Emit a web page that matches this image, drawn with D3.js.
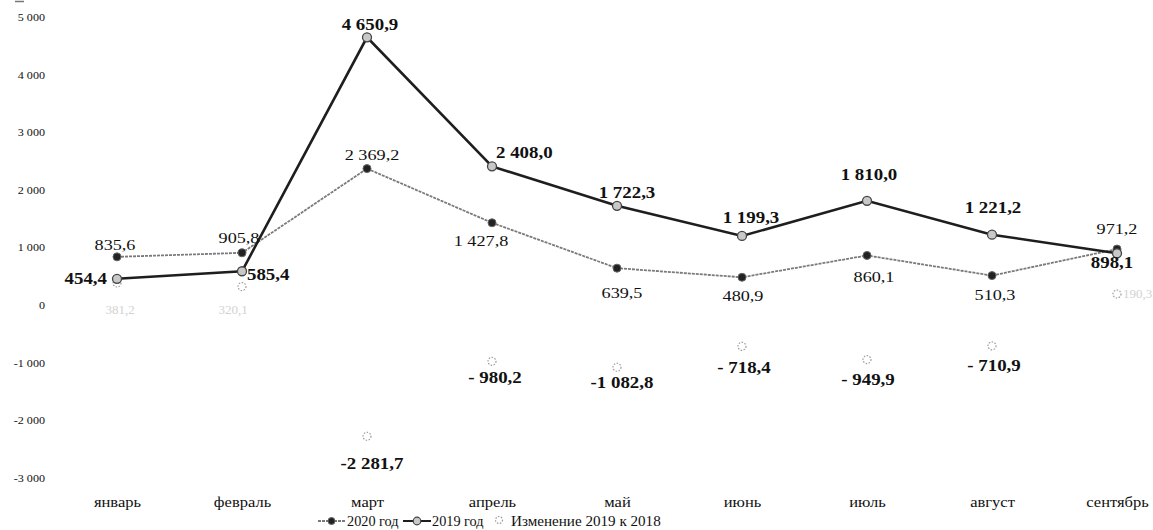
<!DOCTYPE html>
<html><head><meta charset="utf-8">
<script src="https://cdn.jsdelivr.net/npm/d3@7"></script>
<style>
body{margin:0;background:#fff}svg{display:block}
svg text{font-family:"Liberation Serif","DejaVu Serif","Times New Roman",serif !important;}
</style></head>
<body><svg id="c" width="1153" height="530"></svg>
<script>
// ---- data ----
const categories = ["январь","февраль","март","апрель","май","июнь","июль","август","сентябрь"];
const values2020 = [835.6, 905.8, 2369.2, 1427.8, 639.5, 480.9, 860.1, 510.3, 971.2];
const values2019 = [454.4, 585.4, 4650.9, 2408.0, 1722.3, 1199.3, 1810.0, 1221.2, 898.1];
const changeValues = [381.2, 320.1, -2281.7, -980.2, -1082.8, -718.4, -949.9, -710.9, 190.3];
const yTicks = [-3000, -2000, -1000, 0, 1000, 2000, 3000, 4000, 5000];
const seriesNames = ["2020 год", "2019 год", "Изменение 2019 к 2018"];

// ---- label placement (layout only) ----
const place2019 = [[-10,5,"end"],[5,9,"start"],[3,-7,"middle"],[4,-8,"start"],[10,-8,"middle"],[9,-13,"middle"],[2,-21,"middle"],[1,-22,"middle"],[-5,15,"middle"]];
const place2020 = [[-2,-7,"middle"],[-3,-10,"middle"],[5,-9,"middle"],[-11,23,"middle"],[5,30,"middle"],[1,24,"middle"],[7,27,"middle"],[3,24,"middle"],[0,-15,"middle"]];
const placeChange = [[3,31,"middle"],[-9,27,"middle"],[5,33,"middle"],[3,22,"middle"],[5,21,"middle"],[2,27,"middle"],[1,25,"middle"],[2,25,"middle"],[6,4,"start"]];
const faintChange = [true, true, false, false, false, false, false, false, true];

const svg = d3.select("#c");
svg.append("rect").attr("width",1153).attr("height",530).attr("fill","#fff");

const x = d3.scalePoint().domain(categories).range([117, 1117]);
const y = d3.scaleLinear().domain([-3000, 5000]).range([477.6, 17.2]);

const loc = d3.formatLocale({decimal: ",", thousands: "\u00a0", grouping: [3], currency: ["", ""], minus: "-"});
const f1 = loc.format(",.1f");
const fTick = loc.format(",d");
const fmtVal = v => v < 0 ? (Math.abs(v) < 1000 ? "- " + f1(-v) : "-" + f1(-v)) : f1(v);

// tiny mark top-left
svg.append("line").attr("x1",15).attr("x2",24).attr("y1",1.5).attr("y2",1.5).attr("stroke","#777").attr("stroke-width",1.5);

// ---- y axis (labels only) ----
const yAxis = d3.axisLeft(y).tickValues(yTicks).tickSize(0).tickPadding(0).tickFormat(fTick);
const gy = svg.append("g").attr("transform","translate(45,0)").call(yAxis);
gy.select(".domain").remove();
gy.selectAll("text").attr("font-size", 11).attr("fill","#111")
  .attr("x", 0).attr("transform","scale(1.1,1)");

// ---- x axis category labels ----
const xAxis = d3.axisBottom(x).tickSize(0).tickPadding(0);
const gx = svg.append("g").attr("transform","translate(0,497)").call(xAxis);
gx.select(".domain").remove();
gx.selectAll(".tick text").attr("font-size", 14).attr("fill","#111")
  .attr("dy","0.71em").attr("y",0).attr("text-anchor","middle")
  .attr("transform","scale(1.18,1)");

// ---- lines ----
const line = d3.line().x((d,i) => x(categories[i])).y(d => y(d));
svg.append("path").datum(values2020).attr("d", line).attr("fill","none")
  .attr("stroke","#7a7a7a").attr("stroke-width",1.8).attr("stroke-dasharray","3,1");
svg.append("path").datum(values2019).attr("d", line).attr("fill","none")
  .attr("stroke","#1e1e1e").attr("stroke-width",2.6);

// ---- markers ----
svg.append("g").selectAll("circle").data(changeValues).join("circle")
  .attr("cx",(d,i)=>x(categories[i])).attr("cy",d=>y(d)).attr("r",4)
  .attr("fill","none").attr("stroke","#999").attr("stroke-width",1.2).attr("stroke-dasharray","1.5,1.5");
svg.append("g").selectAll("circle").data(values2020).join("circle")
  .attr("cx",(d,i)=>x(categories[i])).attr("cy",d=>y(d)).attr("r",4)
  .attr("fill","#222").attr("stroke","#666").attr("stroke-width",1);
svg.append("g").selectAll("circle").data(values2019).join("circle")
  .attr("cx",(d,i)=>x(categories[i])).attr("cy",d=>y(d)).attr("r",4.5)
  .attr("fill","#c8c8c8").attr("stroke","#444").attr("stroke-width",1.3);

// ---- value labels ----
function labels(vals, place, opts) {
  svg.append("g").selectAll("text").data(vals).join("text")
    .attr("transform",(d,i)=>{
      const faint = opts.faint && opts.faint[i];
      const sx = faint ? 1 : opts.sx;
      return `translate(${x(categories[i]) + place[i][0]},${y(d) + place[i][1]}) scale(${sx},1)`;
    })
    .attr("text-anchor",(d,i)=>place[i][2])
    .attr("font-size",(d,i)=> opts.faint && opts.faint[i] ? 13 : opts.size)
    .attr("font-weight",(d,i)=> opts.faint && opts.faint[i] ? "normal" : opts.weight)
    .attr("fill",(d,i)=> opts.faint && opts.faint[i] ? "#d2d2d2" : "#111")
    .text(d => fmtVal(d));
}
labels(values2020, place2020, {size: 14, weight: "normal", sx: 1.3});
labels(values2019, place2019, {size: 16, weight: "bold", sx: 1.18});
labels(changeValues, placeChange, {size: 16, weight: "bold", sx: 1.18, faint: faintChange});

// ---- legend ----
const lg = svg.append("g").attr("fill","#111");
const ly = 521;
// 2020
lg.append("line").attr("x1",318).attr("x2",345).attr("y1",ly).attr("y2",ly)
  .attr("stroke","#7a7a7a").attr("stroke-width",1.8).attr("stroke-dasharray","3,1");
lg.append("circle").attr("cx",331.5).attr("cy",ly).attr("r",3.5).attr("fill","#222").attr("stroke","#666");
lg.append("text").attr("font-size",14).attr("transform",`translate(347,${ly+5}) scale(1.02,1)`).text(seriesNames[0]);
// 2019
lg.append("line").attr("x1",403).attr("x2",431).attr("y1",ly).attr("y2",ly)
  .attr("stroke","#1e1e1e").attr("stroke-width",2);
lg.append("circle").attr("cx",417).attr("cy",ly).attr("r",3.8).attr("fill","#c8c8c8").attr("stroke","#444").attr("stroke-width",1.2);
lg.append("text").attr("font-size",14).attr("transform",`translate(432,${ly+5}) scale(1.02,1)`).text(seriesNames[1]);
// change
lg.append("circle").attr("cx",499).attr("cy",ly-1).attr("r",3.5)
  .attr("fill","none").attr("stroke","#999").attr("stroke-width",1.2).attr("stroke-dasharray","1.5,1.5");
lg.append("text").attr("font-size",14).attr("transform",`translate(511,${ly+5}) scale(1.08,1)`).text(seriesNames[2]);
</script>
</body></html>
